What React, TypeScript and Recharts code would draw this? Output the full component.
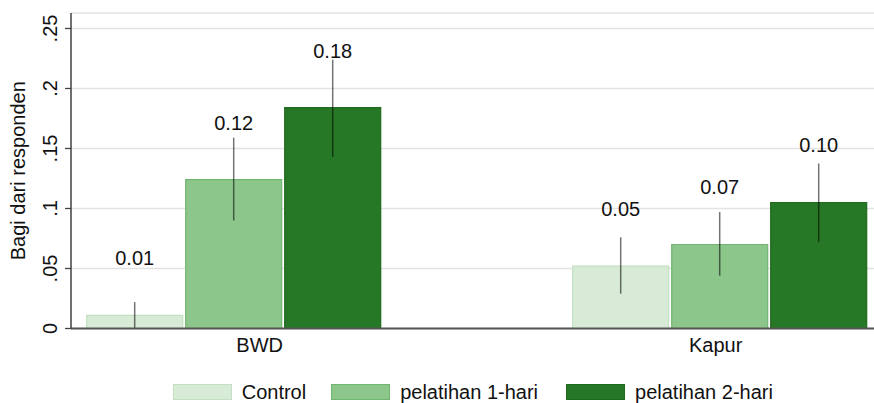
import React from 'react';
import { BarChart, Bar, XAxis, YAxis, CartesianGrid, ErrorBar, LabelList, Label } from 'recharts';

const categories = ['BWD', 'Kapur'];
const seriesNames = ['Control', 'pelatihan 1-hari', 'pelatihan 2-hari'];

const controlValues = [0.011, 0.052];
const hari1Values = [0.124, 0.070];
const hari2Values = [0.184, 0.105];

const controlLow = [0.0, 0.029];
const controlHigh = [0.022, 0.076];
const hari1Low = [0.090, 0.044];
const hari1High = [0.159, 0.097];
const hari2Low = [0.143, 0.072];
const hari2High = [0.224, 0.1375];

const controlLabels = ['0.01', '0.05'];
const hari1Labels = ['0.12', '0.07'];
const hari2Labels = ['0.18', '0.10'];

const yTicks = [0, 0.05, 0.1, 0.15, 0.2, 0.25];
const yTickLabels = ['0', '.05', '.1', '.15', '.2', '.25'];

const FONT = '"Liberation Sans", Arial, sans-serif';
const fills = ['#d8ebd6', '#8cc68b', '#267826'];
const borders = ['#c3e0c0', '#70b66f', '#1f6a1f'];
const catLabelShift = [26, -4];

const data = categories.map((c, i) => ({
  category: c,
  control: controlValues[i],
  controlErr: [controlValues[i] - controlLow[i], controlHigh[i] - controlValues[i]],
  controlLabel: controlLabels[i],
  hari1: hari1Values[i],
  hari1Err: [hari1Values[i] - hari1Low[i], hari1High[i] - hari1Values[i]],
  hari1Label: hari1Labels[i],
  hari2: hari2Values[i],
  hari2Err: [hari2Values[i] - hari2Low[i], hari2High[i] - hari2Values[i]],
  hari2Label: hari2Labels[i],
}));

const ValueLabel = (props: any) => {
  const { x, y, width, value } = props;
  return (
    <text x={x + width / 2} y={y - 57} textAnchor="middle" dominantBaseline="central"
      fontSize={20} fontFamily={FONT} fill="#111">{value}</text>
  );
};

const YTick = (props: any) => {
  const { y, payload, index } = props;
  const lbl = yTickLabels[index] ?? String(payload.value);
  return (
    <text transform={`translate(50, ${y}) rotate(-90)`} textAnchor="middle" dominantBaseline="central"
      fontSize={20} fontFamily={FONT} fill="#111">{lbl}</text>
  );
};

const XTick = (props: any) => {
  const { x, y, payload, index } = props;
  return (
    <text x={x + (catLabelShift[index] ?? 0)} y={y + 8} textAnchor="middle" dominantBaseline="central"
      fontSize={20} fontFamily={FONT} fill="#111">{payload.value}</text>
  );
};

const YLabel = (props: any) => {
  const vb = props.viewBox || {};
  const cy = (vb.y ?? 0) + (vb.height ?? 0) / 2;
  return (
    <text transform={`translate(18, ${cy}) rotate(-90)`} textAnchor="middle" dominantBaseline="central"
      fontSize={20} fontFamily={FONT} fill="#111">Bagi dari responden</text>
  );
};

const keys = ['control', 'hari1', 'hari2'];

export default function App() {
  return (
    <div style={{ position: 'absolute', left: 0, top: 0, width: 874, height: 403, background: '#fff', fontFamily: FONT }}>
      <BarChart width={874} height={403} data={data}
        margin={{ top: 13, right: 0, bottom: 44.5, left: 0 }}
        barSize={96} barGap={3}>
        <CartesianGrid horizontal vertical={false} stroke="#e3e3e3" strokeWidth={1.5} />
        <XAxis dataKey="category" type="category" height={30}
          padding={{ left: -80.3, right: -88.7 }}
          axisLine={{ stroke: '#555', strokeWidth: 2 }} tickLine={false} tick={<XTick />} />
        <YAxis type="number" domain={[0, 0.2629]} ticks={yTicks} width={71} allowDataOverflow
          axisLine={{ stroke: '#222', strokeWidth: 1.3 }} tickLine={{ stroke: '#444', strokeWidth: 1.3 }}
          tickSize={6} tick={<YTick />} interval={0}>
          <Label content={<YLabel />} />
        </YAxis>
        {keys.map((k, i) => (
          <Bar key={k} dataKey={k} name={seriesNames[i]} fill={fills[i]} stroke={borders[i]} strokeWidth={1.2}
            isAnimationActive={false}>
            <ErrorBar dataKey={`${k}Err`} width={0} stroke="rgba(0,0,0,0.55)" strokeWidth={1.5} direction="y" />
            <LabelList dataKey={`${k}Label`} content={<ValueLabel />} />
          </Bar>
        ))}
      </BarChart>
      <div style={{ position: 'absolute', left: 172.7, top: 384, height: 16, display: 'flex', alignItems: 'center', fontSize: 20, color: '#111', whiteSpace: 'nowrap' }}>
        {seriesNames.map((n, i) => (
          <div key={n} style={{ display: 'flex', alignItems: 'center', marginRight: i === 0 ? 25 : 28 }}>
            <div style={{ width: 57, height: 14, background: fills[i], border: `1px solid ${borders[i]}`, marginRight: 10 }} />
            <span style={{ lineHeight: '16px' }}>{n}</span>
          </div>
        ))}
      </div>
    </div>
  );
}
